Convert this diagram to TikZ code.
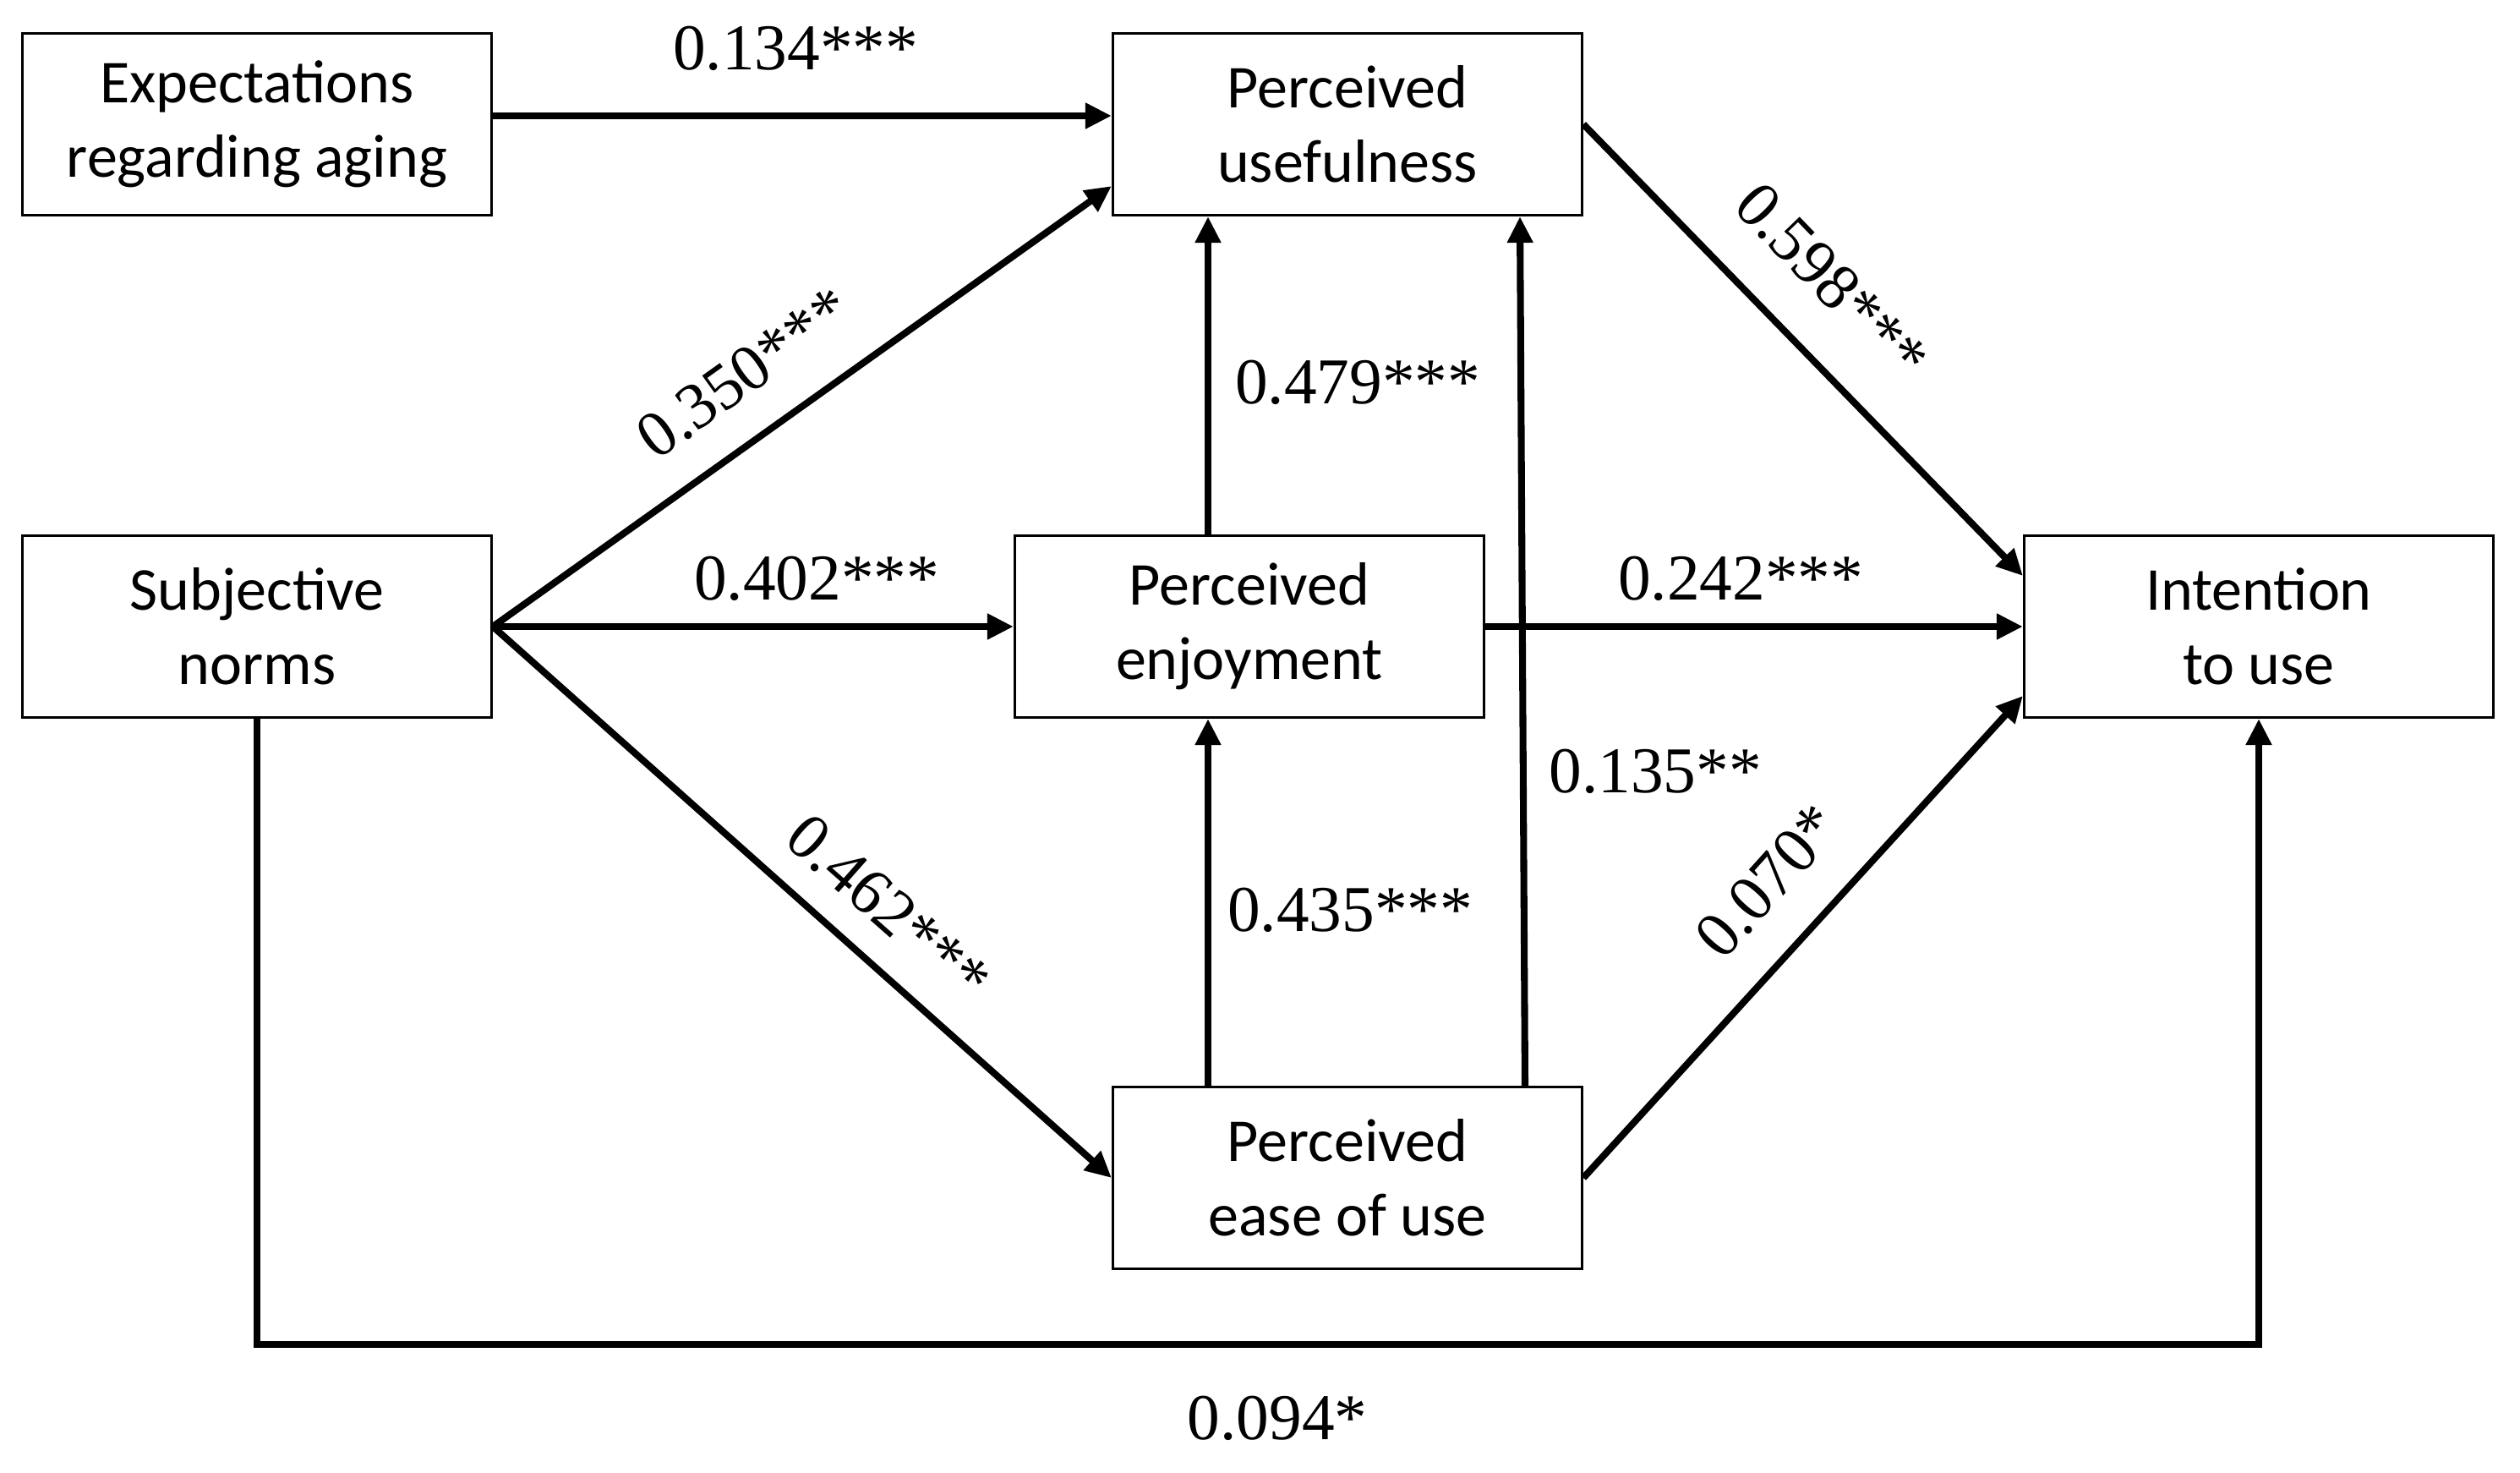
\documentclass[tikz,border=0pt]{standalone}
\usepackage{fontspec}
\setmainfont{Liberation Serif}
\newfontfamily\boxfont{Carlito}
\usetikzlibrary{arrows.meta,calc}

\tikzset{
  factor/.style={draw, line width=0.9pt, minimum width=5.55cm, minimum height=2.15cm,
    align=center, inner sep=0pt, font=\boxfont\fontsize{20.5}{25}\selectfont},
  link/.style={line width=2.3pt, -{Triangle[length=3.1mm, width=2.9mm]}},
  coef/.style={inner sep=0pt, font=\fontsize{22}{26}\selectfont}
}

\begin{document}
\begin{tikzpicture}
\useasboundingbox (0,0) rectangle (29.81,-17.42);

\node[factor] (exp) at (3.04,-1.47) {Expectations\\regarding aging};
\node[factor] (pu)  at (15.94,-1.47) {Perceived\\usefulness};
\node[factor] (sn)  at (3.04,-7.41) {Subjective\\norms};
\node[factor] (pe)  at (14.78,-7.41) {Perceived\\enjoyment};
\node[factor] (iu)  at (26.72,-7.41) {Intention\\to use};
\node[factor] (peu) at (15.94,-13.93) {Perceived\\ease of use};
\coordinate (base) at (0,-15.9);

\draw[link] ([yshift=1mm]exp.east) -- ([yshift=1mm]pu.west);
\draw[link] (sn.east) -- ($(pu.south west)+(0,0.36)$);
\draw[link] (sn.east) -- (pe.west);
\draw[link] (sn.east) -- (peu.west);
\draw[link] ([xshift=-4.9mm]pe.north) -- ([xshift=-4.9mm]pe.north |- pu.south);
\draw[link] ([xshift=-4.9mm]pe.south |- peu.north) -- ([xshift=-4.9mm]pe.south);
\draw[link] ([xshift=21mm]peu.north) -- ([xshift=20.4mm]pu.south);
\draw[link] (pu.east) -- ([yshift=6mm]iu.west);
\draw[link] (pe.east) -- (iu.west);
\draw[link] (peu.east) -- ([yshift=-8.2mm]iu.west);
\draw[link] (sn.south) -- (sn.south |- base) -| (iu.south);

\node[coef] (c134) at (9.41,-0.57) {0.134***};
\node[coef, rotate=35.5] (c350) at (8.80,-4.41) {0.350***};
\node[coef] (c402) at (9.66,-6.84) {0.402***};
\node[coef, rotate=-41.4] (c462) at (10.51,-10.74) {0.462***};
\node[coef] (c479) at (16.06,-4.52) {0.479***};
\node[coef] (c435) at (15.97,-10.76) {0.435***};
\node[coef] (c135) at (19.58,-9.12) {0.135**};
\node[coef, rotate=48] (c070) at (20.91,-10.42) {0.070*};
\node[coef] (c242) at (20.59,-6.84) {0.242***};
\node[coef, rotate=-46] (c598) at (21.67,-3.33) {0.598***};
\node[coef] (c094) at (15.11,-16.77) {0.094*};
\end{tikzpicture}
\end{document}
